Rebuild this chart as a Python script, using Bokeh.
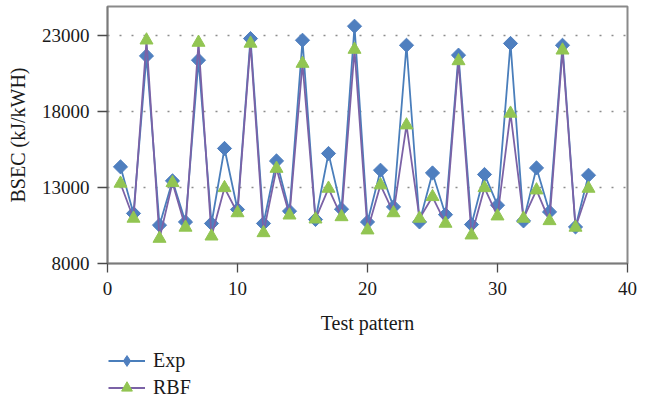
from bokeh.plotting import figure
from bokeh.layouts import column
from bokeh.models import Legend, LegendItem, FixedTicker, Range1d, ColumnDataSource
from bokeh.embed import file_html
from bokeh.resources import INLINE

# ---- data ----
pattern = list(range(1, 38))
exp_vals = [14350, 11290, 21640, 10520, 13430, 10730, 21360, 10630, 15560, 11550,
            22780, 10630, 14740, 11440, 22670, 10890, 15230, 11570, 23590, 10730,
            14130, 11720, 22340, 10730, 13950, 11210, 21690, 10560, 13850, 11830,
            22460, 10800, 14280, 11390, 22340, 10400, 13800]
rbf_vals = [13260, 10960, 22670, 9640, 13300, 10370, 22520, 9790, 12970, 11320,
            22460, 10010, 14240, 11170, 21140, 10910, 12930, 11060, 22060, 10190,
            13150, 11320, 17090, 10960, 12380, 10630, 21310, 9860, 12970, 11110,
            17860, 10960, 12820, 10800, 22010, 10370, 12930]
series_names = ["Exp", "RBF"]
x_ticks = [0, 10, 20, 30, 40]
y_ticks = [8000, 13000, 18000, 23000]

FONT = "Liberation Serif"
TXT = "#1a1a1a"
BLUE_LINE = "#4a7ebb"
BLUE_MARK = "#4f7fbf"
PURPLE = "#7b62a6"
GREEN = "#92c552"
NAN = float("nan")

src = ColumnDataSource(dict(x=pattern, exp=exp_vals, rbf=rbf_vals))

p = figure(width=651, height=338, output_backend="svg", toolbar_location=None,
           x_range=Range1d(0, 40), y_range=Range1d(8000, 24886),
           min_border_left=107, min_border_right=24, min_border_top=6,
           min_border_bottom=75)

p.outline_line_color = "#8a8a8a"
p.outline_line_width = 2
p.background_fill_color = "white"
p.border_fill_color = "white"

# grid
p.xgrid.visible = False
p.ygrid.ticker = FixedTicker(ticks=y_ticks)
p.ygrid.grid_line_color = "#8c8c8c"
p.ygrid.grid_line_dash = "2 10"
p.ygrid.grid_line_width = 1.5

# axes
p.xaxis.ticker = FixedTicker(ticks=x_ticks)
p.yaxis.ticker = FixedTicker(ticks=y_ticks)
for ax in (p.xaxis[0], p.yaxis[0]):
    ax.axis_line_color = "#7a7a7a"
    ax.axis_line_width = 1.6
    ax.major_tick_line_color = "#4a4a4a"
    ax.major_tick_line_width = 1.3
    ax.major_tick_in = 0
    ax.minor_tick_line_color = None
    ax.major_label_text_font = FONT
    ax.major_label_text_font_size = "19px"
    ax.major_label_text_color = TXT
    ax.axis_label_text_font = FONT
    ax.axis_label_text_font_size = "20px"
    ax.axis_label_text_font_style = "normal"
    ax.axis_label_text_color = TXT

p.xaxis.major_tick_out = 9
p.xaxis.major_label_standoff = 9
p.xaxis.axis_label = "Test pattern"
p.xaxis.axis_label_standoff = 14
p.yaxis.major_tick_out = 10
p.yaxis.major_label_standoff = 8
p.yaxis.axis_label = "BSEC (kJ/kWH)"
p.yaxis.axis_label_standoff = 10

# series
p.line("x", "exp", source=src, line_color=BLUE_LINE, line_width=1.8)
p.scatter("x", "exp", source=src, marker="square", angle=0.7854, size=10,
          fill_color=BLUE_MARK, line_color=BLUE_MARK, line_width=1)
p.line("x", "rbf", source=src, line_color=PURPLE, line_width=1.8)
p.scatter("x", "rbf", source=src, marker="triangle", size=13,
          fill_color=GREEN, line_color=GREEN, line_width=1)

# ---- legend strip below the chart ----
lg = figure(width=651, height=59, output_backend="svg", toolbar_location=None,
            x_range=Range1d(0, 1), y_range=Range1d(0, 1),
            x_axis_location=None, y_axis_location=None,
            min_border_left=0, min_border_right=0, min_border_top=0,
            min_border_bottom=0)
lg.outline_line_color = None
lg.xgrid.visible = False
lg.ygrid.visible = False
lg.background_fill_color = "white"
lg.border_fill_color = "white"

el = lg.line([NAN], [NAN], line_color=BLUE_LINE, line_width=1.8)
es = lg.scatter([NAN], [NAN], marker="diamond",
                fill_color=BLUE_MARK, line_color=BLUE_MARK)
rl = lg.line([NAN], [NAN], line_color=PURPLE, line_width=1.8)
rs = lg.scatter([NAN], [NAN], marker="triangle",
                fill_color=GREEN, line_color=GREEN)

legend = Legend(items=[LegendItem(label=series_names[0], renderers=[el, es]),
                       LegendItem(label=series_names[1], renderers=[rl, rs])],
                location=(1, -3.5), orientation="vertical",
                glyph_width=37, glyph_height=27, label_height=20, spacing=0,
                padding=0, margin=0,
                label_standoff=8, border_line_color=None,
                background_fill_alpha=0,
                label_text_font=FONT, label_text_font_size="20px",
                label_text_color=TXT)
lg.add_layout(legend, "center")

layout = column(p, lg, spacing=0)
open("out.html", "w").write(file_html(layout, INLINE))
